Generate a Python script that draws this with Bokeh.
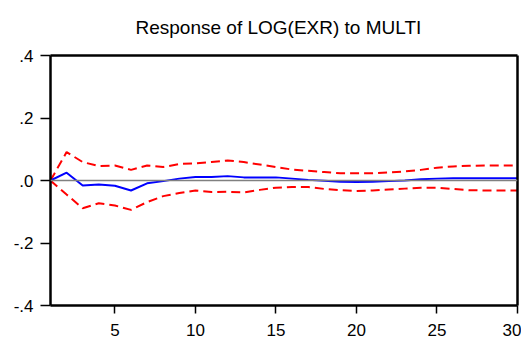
from bokeh.plotting import figure
from bokeh.models import Range1d, FixedTicker, Span, LinearAxis, Title
from bokeh.embed import file_html
from bokeh.resources import INLINE

periods = list(range(1, 31))
response = [0.0, 0.025, -0.016, -0.013, -0.017, -0.032, -0.009, -0.002, 0.006, 0.011,
            0.011, 0.014, 0.010, 0.010, 0.010, 0.006, 0.002, -0.001, -0.004, -0.005,
            -0.004, -0.002, 0.000, 0.004, 0.006, 0.007, 0.007, 0.007, 0.007, 0.007]
upper = [0.0, 0.091, 0.059, 0.046, 0.048, 0.034, 0.048, 0.043, 0.053, 0.055,
         0.059, 0.064, 0.059, 0.051, 0.043, 0.035, 0.031, 0.027, 0.023, 0.023,
         0.023, 0.026, 0.029, 0.034, 0.041, 0.045, 0.047, 0.048, 0.048, 0.048]
lower = [0.0, -0.045, -0.089, -0.073, -0.080, -0.094, -0.069, -0.050, -0.040, -0.032,
         -0.037, -0.036, -0.038, -0.030, -0.023, -0.021, -0.021, -0.027, -0.031, -0.034,
         -0.032, -0.029, -0.026, -0.023, -0.023, -0.027, -0.031, -0.032, -0.032, -0.032]
x_ticks = [5, 10, 15, 20, 25, 30]
y_ticks = [-0.4, -0.2, 0.0, 0.2, 0.4]
y_tick_labels = {-0.4: "-.4", -0.2: "-.2", 0.0: ".0", 0.2: ".2", 0.4: ".4"}
title_text = "Response of LOG(EXR) to MULTI"

FONT = "Liberation Sans"

p = figure(width=521, height=338, output_backend="svg", toolbar_location=None,
           x_range=Range1d(1, 30), y_range=Range1d(-0.4, 0.4),
           min_border_left=50, min_border_right=4, min_border_top=55, min_border_bottom=33)
p.background_fill_color = "white"
p.border_fill_color = "white"
p.outline_line_color = None
p.grid.visible = False

p.xaxis.ticker = FixedTicker(ticks=x_ticks)
p.yaxis.ticker = FixedTicker(ticks=y_ticks)
p.yaxis.major_label_overrides = y_tick_labels
for ax in (p.xaxis, p.yaxis):
    ax.axis_line_color = "black"
    ax.axis_line_width = 2.5
    ax.major_tick_line_color = "black"
    ax.major_tick_line_width = 1.5
    ax.minor_tick_line_color = None
    ax.major_tick_in = 0
    ax.major_label_text_font = FONT
    ax.major_label_text_font_size = "17px"
    ax.major_label_text_color = "black"
p.xaxis.major_tick_out = 8
p.xaxis.major_label_standoff = 10
p.yaxis.major_tick_out = 10
p.yaxis.major_label_standoff = 7

# top and right frame edges (no ticks, no labels)
top_ax = LinearAxis(ticker=FixedTicker(ticks=[]),
                    axis_line_color="black", axis_line_width=2.5,
                    major_tick_line_color=None, minor_tick_line_color=None,
                    major_tick_out=0, major_label_standoff=0)
right_ax = LinearAxis(ticker=FixedTicker(ticks=[]),
                      axis_line_color="black", axis_line_width=2.5,
                      major_tick_line_color=None, minor_tick_line_color=None)
p.add_layout(top_ax, "above")
p.add_layout(right_ax, "right")

p.add_layout(Span(location=0, dimension="width", line_color="#808080", line_width=1.5))

p.line(periods, upper, line_color="red", line_width=2, line_dash="9 5")
p.line(periods, lower, line_color="red", line_width=2, line_dash="9 5")
p.line(periods, response, line_color="blue", line_width=2)

p.add_layout(Title(text=title_text, align="left", offset=85, text_font=FONT,
                   text_font_size="19px", text_font_style="normal", text_color="black",
                   standoff=31, vertical_align="top"), "above")

open("out.html", "w").write(file_html(p, INLINE))
